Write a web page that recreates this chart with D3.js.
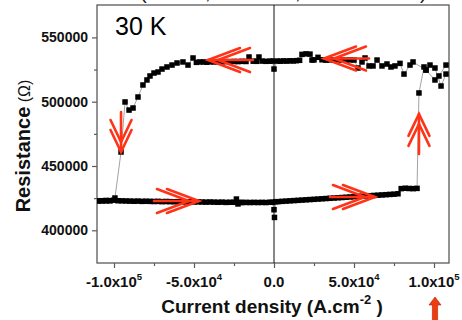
<!DOCTYPE html>
<html>
<head>
<meta charset="utf-8">
<script src="https://cdn.jsdelivr.net/npm/d3@7"></script>
<style>
  body { margin: 0; background: #fff; }
  svg { display: block; }
</style>
</head>
<body>
<svg id="chart" width="462" height="320"></svg>
<script>
// Current density sweep from +J down to -J: high-resistance state, then switching to low state
const sweepDownJ = [107500, 103100, 100600, 95000, 86900, 85000, 81250, 78750, 75600, 73100, 70600, 67500,
  64400, 61900, 59400, 56900, 55000, 52500, 50000, 47500, 45000, 42500, 40000, 37500, 35000, 32500, 30000,
  27500, 25000, 23750, 22500, 20000, 17500, 16000, 14000, 12000, 10000, 8000, 6000, 4000, 2000, 0, -1000,
  -2500, -5000, -7500, -9400, -11000, -13000, -15600, -17500, -20000, -22500, -25000, -27500, -30000, -32500,
  -35000, -37500, -40000, -42000, -44000, -46250, -48500, -50600, -53750, -56900, -60600, -63750, -66900,
  -70000, -72500, -75000, -77500, -79400, -81900, -85000, -88100, -90600, -93100, -95600, -99400, -102500,
  -105000, -107500, -110000];
const sweepDownR = [528500, 520000, 516900, 524650, 530900, 528500, 521500, 529800, 527800, 527000, 529300, 527800,
  532400, 527800, 527800, 534000, 530900, 526200, 532400, 532500, 532300, 532400, 532600, 532400, 532500, 532300, 532600,
  534500, 532500, 532400, 537000, 537200, 536800, 532200, 531900, 531700, 531800, 531600, 531700, 531500, 531600, 525400, 531600,
  531500, 531400, 531600, 534750, 531400, 531500, 534750, 531300, 531400, 531200, 531300, 531100, 531200, 531000,
  531100, 530900, 531000, 530700, 530900, 530900, 530600, 534000, 528500, 530900, 530100, 528500, 527000,
  525400, 523100, 522300, 520000, 516900, 513000, 503650, 495100, 493500, 499800, 460900, 425100, 423000,
  423200, 422900, 423000];

// Current density sweep from -J up to +J: low-resistance state, then switching to high state
const sweepUpJ = [-110000, -107500, -105000, -102500, -100000, -97500, -95000, -92500, -90000, -87500, -85000,
  -82500, -80000, -77500, -75000, -72500, -70000, -67500, -65000, -62500, -60000, -57500, -55000, -52500, -50000,
  -47500, -45000, -42500, -40000, -37500, -35000, -32500, -30000, -27500, -25000, -23500, -22500, -21000, -20000,
  -17500, -15000, -12500, -10000, -7500, -5000, -2500, -1000, 0, 300, 1000, 2500, 5000, 7500, 10000, 12500, 15000,
  17500, 20000, 22500, 25000, 27500, 30000, 32500, 35000, 37500, 40000, 42500, 45000, 47500, 50000, 52500, 55000,
  57500, 60000, 62500, 65000, 67500, 70000, 72500, 75000, 77500, 79500, 82000, 84500, 87000, 89400, 90600, 93750,
  95000, 97500, 100600, 104400, 107500];
const sweepUpR = [422800, 423000, 422900, 423100, 423400, 423000, 422900, 422800, 422700, 422600, 422700,
  422500, 422600, 422500, 422400, 422500, 422300, 422400, 422300, 422200, 422300, 422200, 422100, 422200, 422000,
  422100, 422000, 421900, 422000, 421900, 421800, 421900, 421700, 421800, 421800, 424300, 420500, 421700, 421600,
  421700, 421600, 421700, 421600, 421700, 421600, 421800, 421800, 416000, 410000, 422200, 422300, 422500, 422700, 422900, 423100, 423300,
  423500, 423700, 423900, 424100, 424300, 424500, 424700, 424900, 425100, 425300, 425500, 425700, 425900, 426100, 426300, 426500,
  426700, 426900, 427100, 427300, 427500, 427700, 427900, 428100, 428400, 432400, 432700, 432500, 432400, 432600, 506800, 527000,
  524650, 528500, 526200, 512200, 521500];

const xTicks = [-100000, -50000, 0, 50000, 100000];
const xTickMantissa = ["-1.0x10", "-5.0x10", "0.0", "5.0x10", "1.0x10"];
const xTickExponent = ["5", "4", "", "4", "5"];
const xMinorTicks = [-75000, -25000, 25000, 75000];
const yTicks = [400000, 450000, 500000, 550000];
const yTickLabels = ["400000", "450000", "500000", "550000"];
const yMinorTicks = [425000, 475000, 525000];

const temperatureLabel = "30 K";
const xTitle = "Current density (A.cm";
const xTitleExponent = "-2";
const yTitle = "Resistance";
const yTitleUnit = " (\u03A9)";
const headerFragments = ["(", ",", ",", ")"];

// Double-chevron arrows marking the sweep direction, anchored at the tip (J, R)
const sweepArrows = [
  { J: -41250, R: 532400, dir: "left" },
  { J: 31250, R: 533600, dir: "left" },
  { J: -46900, R: 422800, dir: "right" },
  { J: 63100, R: 425900, dir: "right" },
  { J: -95600, R: 460900, dir: "down" },
  { J: 90600, R: 490500, dir: "up" }
];

const svg = d3.select("#chart");
const W = 462, H = 320;
const plot = { left: 97, right: 449, top: 5, bottom: 263 };

const x = d3.scaleLinear().domain([-110625, 109375]).range([plot.left, plot.right]);
const y = d3.scaleLinear().domain([374570, 575200]).range([plot.bottom, plot.top]);

const red = "#ff3318";
const frameColor = "#5a5a5a";

// Cut-off header line above the plot frame
const header = svg.append("text")
  .attr("y", -1)
  .attr("font-family", "Liberation Sans, Arial, sans-serif")
  .attr("font-size", 20)
  .attr("fill", "#222");
const headerX = [140, 205, 295, 420];
headerFragments.forEach((f, i) => header.append("tspan").attr("x", headerX[i]).text(f));

// Axes
const yAxis = d3.axisLeft(y).tickValues(yTicks).tickSize(5).tickPadding(4)
  .tickFormat((d, i) => yTickLabels[i]);
const gy = svg.append("g").attr("transform", `translate(${plot.left},0)`).call(yAxis);
gy.select(".domain").remove();
gy.selectAll("line").attr("stroke", frameColor).attr("stroke-width", 1.2);
gy.selectAll("text")
  .attr("font-family", "Liberation Sans, Arial, sans-serif")
  .attr("font-weight", "bold").attr("font-size", 14).attr("fill", "#111");

const yMinor = d3.axisLeft(y).tickValues(yMinorTicks).tickSize(3).tickFormat("");
const gym = svg.append("g").attr("transform", `translate(${plot.left},0)`).call(yMinor);
gym.select(".domain").remove();
gym.selectAll("line").attr("stroke", frameColor).attr("stroke-width", 1.2);

const xAxis = d3.axisBottom(x).tickValues(xTicks).tickSize(5).tickFormat("");
const gx = svg.append("g").attr("transform", `translate(0,${plot.bottom})`).call(xAxis);
gx.select(".domain").remove();
gx.selectAll("line").attr("stroke", frameColor).attr("stroke-width", 1.2);

const xMinor = d3.axisBottom(x).tickValues(xMinorTicks).tickSize(3).tickFormat("");
const gxm = svg.append("g").attr("transform", `translate(0,${plot.bottom})`).call(xMinor);
gxm.select(".domain").remove();
gxm.selectAll("line").attr("stroke", frameColor).attr("stroke-width", 1.2);

// x tick labels with power-of-ten exponents
xTicks.forEach((t, i) => {
  const tx = svg.append("text")
    .attr("x", x(t)).attr("y", 287)
    .attr("text-anchor", "middle")
    .attr("font-family", "Liberation Sans, Arial, sans-serif")
    .attr("font-weight", "bold").attr("font-size", 15).attr("fill", "#111");
  tx.append("tspan").text(xTickMantissa[i]);
  if (xTickExponent[i]) {
    tx.append("tspan").attr("font-size", 9.5).attr("dy", -7).text(xTickExponent[i]);
  }
});

// Plot frame and zero-current line
svg.append("rect")
  .attr("x", plot.left).attr("y", plot.top)
  .attr("width", plot.right - plot.left).attr("height", plot.bottom - plot.top)
  .attr("fill", "none").attr("stroke", frameColor).attr("stroke-width", 1.3);
svg.append("line")
  .attr("x1", x(0)).attr("x2", x(0)).attr("y1", plot.top).attr("y2", plot.bottom)
  .attr("stroke", "#111").attr("stroke-width", 1);

// Data: thin connecting lines plus square markers
const clip = svg.append("clipPath").attr("id", "plotClip").append("rect")
  .attr("x", plot.left).attr("y", plot.top)
  .attr("width", plot.right - plot.left).attr("height", plot.bottom - plot.top);
const gData = svg.append("g").attr("clip-path", "url(#plotClip)");
const series = [
  sweepUpJ.map((j, i) => ({ J: j, R: sweepUpR[i] })),
  sweepDownJ.map((j, i) => ({ J: j, R: sweepDownR[i] }))
];
const line = d3.line().x(d => x(d.J)).y(d => y(d.R));
series.forEach(s => {
  gData.append("path").datum(s).attr("d", line)
    .attr("fill", "none").attr("stroke", "#8a8a8a").attr("stroke-width", 0.8);
});
const ms = 5.5;
series.forEach(s => {
  gData.selectAll(null).data(s).enter().append("rect")
    .attr("x", d => x(d.J) - ms / 2).attr("y", d => y(d.R) - ms / 2)
    .attr("width", ms).attr("height", ms).attr("fill", "#000");
});

// Sweep direction arrows
const dirs = { left: [-1, 0], right: [1, 0], up: [0, -1], down: [0, 1] };
sweepArrows.forEach(a => {
  const u = dirs[a.dir];
  const n = [-u[1], u[0]];
  const horiz = a.dir === "left" || a.dir === "right";
  const L = horiz ? 45 : 40, arm = horiz ? 32 : 22, w = horiz ? 12 : 10.5, gap = 10;
  const tx = x(a.J), ty = y(a.R);
  const g = svg.append("g").attr("stroke", red).attr("stroke-width", 2.6)
    .attr("fill", "none").attr("stroke-linecap", "round").attr("stroke-linejoin", "miter");
  g.append("line").attr("x1", tx - u[0] * L).attr("y1", ty - u[1] * L).attr("x2", tx).attr("y2", ty);
  [0, gap].forEach(off => {
    const px = tx - u[0] * off, py = ty - u[1] * off;
    const pts = [
      [px - u[0] * arm + n[0] * w, py - u[1] * arm + n[1] * w],
      [px, py],
      [px - u[0] * arm - n[0] * w, py - u[1] * arm - n[1] * w]
    ];
    g.append("polyline").attr("points", pts.map(p => p.join(",")).join(" "));
  });
});

// Temperature label
svg.append("text")
  .attr("x", 115).attr("y", 35)
  .attr("font-family", "Liberation Sans, Arial, sans-serif")
  .attr("font-size", 25).attr("fill", "#000")
  .text(temperatureLabel);

// Axis titles
const xt = svg.append("text")
  .attr("x", 272).attr("y", 313).attr("text-anchor", "middle")
  .attr("font-family", "Liberation Sans, Arial, sans-serif")
  .attr("font-weight", "bold").attr("font-size", 19).attr("fill", "#111");
xt.append("tspan").text(xTitle);
xt.append("tspan").attr("font-size", 13).attr("dy", -9).text(xTitleExponent);
xt.append("tspan").attr("dy", 9).text(" )");

const yt = svg.append("text")
  .attr("transform", "translate(30,146) rotate(-90)")
  .attr("text-anchor", "middle")
  .attr("font-family", "Liberation Sans, Arial, sans-serif")
  .attr("font-size", 20).attr("fill", "#111");
yt.append("tspan").attr("font-weight", "bold").text(yTitle);
yt.append("tspan").attr("font-size", 16).text(yTitleUnit);

// Marker arrow below the +1.0x10^5 tick
const ax = x(100000) + 1;
svg.append("path")
  .attr("d", d3.line()([[ax, 297], [ax + 6, 305], [ax + 2.6, 305], [ax + 2.6, 321],
    [ax - 2.6, 321], [ax - 2.6, 305], [ax - 6, 305]]) + "Z")
  .attr("fill", "#f03a10").attr("stroke", "#a82000").attr("stroke-width", 0.6);
</script>
</body>
</html>
